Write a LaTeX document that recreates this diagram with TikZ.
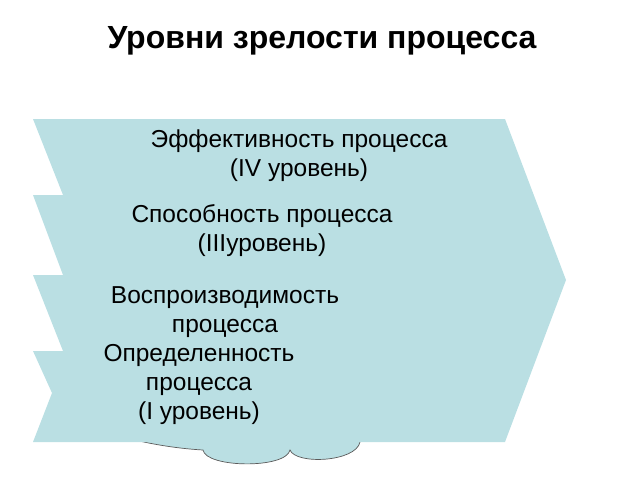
\documentclass[tikz,border=0pt]{standalone}
\usepackage{fontspec}
\setmainfont{Liberation Sans}
\usepackage{tikz}
\definecolor{bandteal}{RGB}{186,223,227}
\definecolor{cloudgray}{RGB}{90,90,90}
\tikzset{
  leveltext/.style={align=center, inner sep=0pt, font=\fontsize{24.5}{29}\selectfont},
  titletext/.style={inner sep=0pt, font=\fontsize{32}{36}\selectfont\bfseries}
}

\begin{document}
\begin{tikzpicture}[x=1pt,y=-1pt]
\useasboundingbox (0,0) rectangle (640,480);
\node[titletext] (title) at (322,41) {Уровни зрелости процесса};

% cloud behind the bands, only its lower bumps show
\filldraw[draw=cloudgray, fill=bandteal, line width=0.7pt]
  (135,440) .. controls (160,446) and (185,449) .. (203,450)
  .. controls (206,468) and (286,469) .. (290,450)
  .. controls (296,465) and (356,462) .. (360,442)
  -- (360,420) -- (135,420) -- cycle;

% stacked bands
\fill[bandteal] (33,119) -- (505,119) -- (566,280) -- (505,442) -- (33,442)
  -- (52,393) -- (33,351) -- (63,351) -- (33,275) -- (63,275)
  -- (33,195) -- (63,195) -- cycle;

\node[leveltext] (lvlfour) at (299,156) {Эффективность процесса\\(IV уровень)};
\node[leveltext] (lvlthree) at (262,231) {Способность процесса\\(IIIуровень)};
\node[leveltext] (lvltwo) at (225,312) {Воспроизводимость\\процесса};
\node[leveltext] (lvlone) at (199,384) {Определенность\\процесса\\(I уровень)};
\end{tikzpicture}
\end{document}
